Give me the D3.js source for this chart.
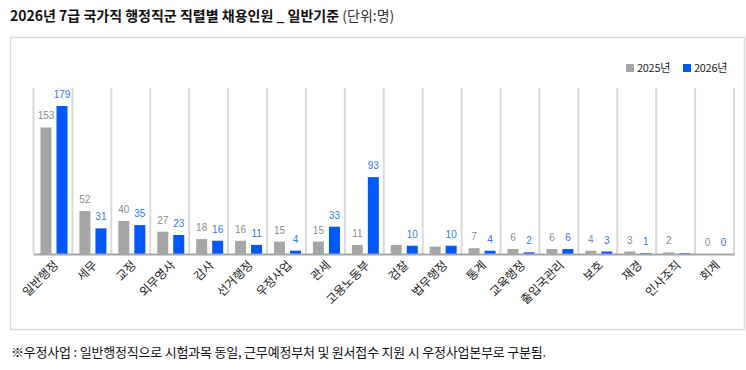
<!DOCTYPE html>
<html>
<head>
<meta charset="utf-8">
<script src="https://cdn.jsdelivr.net/npm/d3@7.9.0/dist/d3.min.js"></script>
<style>
  body { margin: 0; background: #fff; font-family: "Noto Sans CJK KR", "Noto Sans", sans-serif; }
</style>
</head>
<body>
<svg id="chart" width="746" height="370"></svg>
<script>
// chart data
const categories = ["일반행정", "세무", "교정", "외무영사", "감사", "선거행정", "우정사업", "관세", "고용노동부",
  "검찰", "법무행정", "통계", "교육행정", "출입국관리", "보호", "재경", "인사조직", "회계"];
const values2025 = [153, 52, 40, 27, 18, 16, 15, 15, 11, 11, 9, 7, 6, 6, 4, 3, 2, 0];
const values2026 = [179, 31, 35, 23, 16, 11, 4, 33, 93, 10, 10, 4, 2, 6, 3, 1, 1, 0];
// labels the original leaves out are null
const labels2025 = [153, 52, 40, 27, 18, 16, 15, 15, 11, null, null, 7, 6, 6, 4, 3, 2, 0];
const labels2026 = [179, 31, 35, 23, 16, 11, 4, 33, 93, 10, 10, 4, 2, 6, 3, 1, null, 0];
const seriesNames = ["2025년", "2026년"];

const svg = d3.select("#chart");
const font = '"Noto Sans CJK KR", "Noto Sans", sans-serif';

// title
const title = svg.append("text")
  .attr("x", 10).attr("y", 21)
  .attr("font-family", font).attr("font-size", 14).attr("fill", "#111");
title.append("tspan").attr("font-weight", "bold").text("2026년 7급 국가직 행정직군 직렬별 채용인원 _ 일반기준 ");
title.append("tspan").attr("fill", "#333").text("(단위:명)");

// frame
svg.append("rect")
  .attr("x", 10.5).attr("y", 37.5).attr("width", 734).attr("height", 292)
  .attr("fill", "none").attr("stroke", "#d9d9d9").attr("stroke-width", 1.5);

const x = d3.scaleBand().domain(categories).range([33.5, 734]).paddingInner(0).paddingOuter(0);
const y = d3.scaleLinear().domain([0, 179]).range([254, 106]);
const series = d3.scaleBand().domain(seriesNames).range([7, 34]).paddingInner(0.3125).paddingOuter(0);
const barColors = d3.scaleOrdinal().domain(seriesNames).range(["#a6a6a6", "#0058fa"]);
const labelColors = d3.scaleOrdinal().domain(seriesNames).range(["#8c8c8c", "#3478f0"]);

// vertical separators between categories
const seps = d3.range(categories.length + 1).map(i => i === categories.length ? x.range()[1] : x(categories[i]));
svg.append("g").selectAll("line").data(seps).join("line")
  .attr("x1", d => d).attr("x2", d => d)
  .attr("y1", 88).attr("y2", 254)
  .attr("stroke", "#d9d9d9").attr("stroke-width", 2);

// bars
const rows = categories.map((c, i) => ({
  cat: c,
  vals: [
    { s: seriesNames[0], v: values2025[i], l: labels2025[i] },
    { s: seriesNames[1], v: values2026[i], l: labels2026[i] }
  ]
}));

const groups = svg.append("g").selectAll("g").data(rows).join("g")
  .attr("transform", d => `translate(${x(d.cat)},0)`);

groups.selectAll("rect").data(d => d.vals).join("rect")
  .attr("x", d => series(d.s))
  .attr("y", d => y(d.v))
  .attr("width", series.bandwidth())
  .attr("height", d => y(0) - y(d.v))
  .attr("fill", d => barColors(d.s));

groups.selectAll("text").data(d => d.vals.filter(v => v.l !== null)).join("text")
  .attr("x", d => series(d.s) + series.bandwidth() / 2)
  .attr("y", d => y(d.v) - 8)
  .attr("text-anchor", "middle")
  .attr("font-family", "Arial, 'Liberation Sans', sans-serif")
  .attr("font-size", 10)
  .attr("fill", d => labelColors(d.s))
  .text(d => d.l);

// baseline axis with rotated labels
const axis = svg.append("g")
  .attr("transform", "translate(0,254)")
  .call(d3.axisBottom(x).tickSize(0).tickPadding(0));
axis.select(".domain").attr("stroke", "#a6a6a6").attr("stroke-width", 2);
axis.selectAll("text")
  .attr("font-family", font)
  .attr("font-size", 12)
  .attr("fill", "#222")
  .attr("text-anchor", "end")
  .attr("dy", null)
  .attr("transform", "translate(6,12) rotate(-45)");

// legend
const legend = svg.append("g").attr("transform", "translate(626,62)");
const legendX = [0, 57];
seriesNames.forEach((s, i) => {
  const g = legend.append("g").attr("transform", `translate(${legendX[i]},0)`);
  g.append("rect").attr("width", 8).attr("height", 8).attr("y", 2).attr("fill", barColors(s));
  g.append("text").attr("x", 11).attr("y", 10)
    .attr("font-family", font).attr("font-size", 11).attr("fill", "#222")
    .attr("letter-spacing", -0.3)
    .text(s);
});

// footnote
svg.append("text")
  .attr("x", 11).attr("y", 357)
  .attr("font-family", font).attr("font-size", 13).attr("fill", "#111")
  .attr("letter-spacing", -0.2)
  .text("※우정사업 : 일반행정직으로 시험과목 동일, 근무예정부처 및 원서접수 지원 시 우정사업본부로 구분됨.");
</script>
</body>
</html>
